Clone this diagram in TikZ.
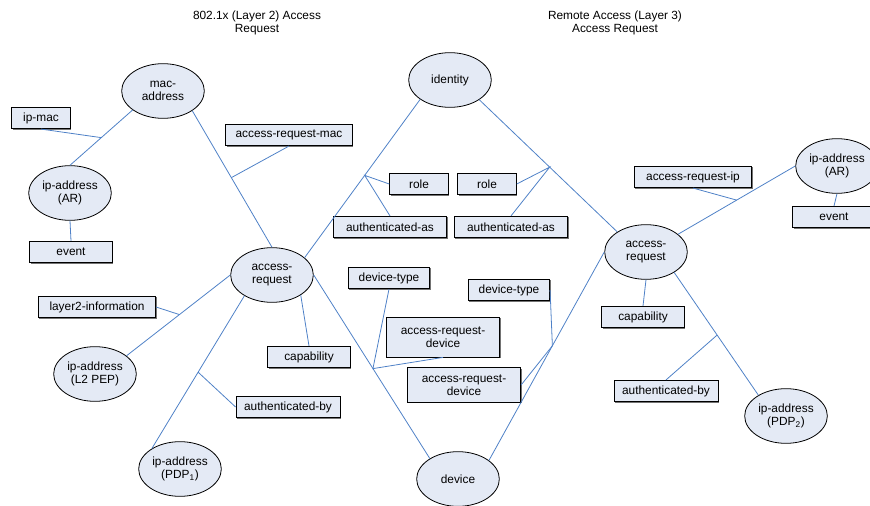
\documentclass[tikz,border=0pt]{standalone}
\usepackage{fontspec}
\setmainfont{Liberation Sans}
\usetikzlibrary{shapes.geometric,shadows,calc}

\definecolor{linkblue}{RGB}{79,129,199}
\definecolor{paleblue}{RGB}{228,234,245}

\begin{document}
\begin{tikzpicture}[x = 0.75pt, y = -0.75pt, font = \fontsize{8.9}{10}\selectfont,
                        entity/.style = {ellipse, draw, fill = paleblue, line width = 0.6pt, minimum width = 62pt, minimum height = 41pt, inner sep = 0pt, align = center},
                        attrib/.style = {rectangle, draw, fill = paleblue, line width = 0.6pt, minimum height = 16pt, inner sep = 1pt, align = center,
                                         drop shadow = {shadow xshift = 0.8pt, shadow yshift = -0.8pt, fill = black!55, opacity = 1}},
                        link/.style = {draw = linkblue, line width = 0.6pt}]
      \useasboundingbox (0, 0) rectangle (870, 506);

      \node [align = center] (ttlL) at (257, 23) {802.1x (Layer 2) Access\\Request};
      \node [align = center] (ttlR) at (615, 23) {Remote Access (Layer 3)\\Access Request};

      \node [entity] (mac) at (163, 91) {mac-\\address};
      \node [entity] (iparL) at (70, 193) {ip-address\\(AR)};
      \node [entity] (ident) at (450, 80) {identity};
      \node [entity] (reqL) at (272, 275) {access-\\request};
      \node [entity] (pep) at (95, 374) {ip-address\\(L2 PEP)};
      \node [entity] (pdpA) at (180, 469) {ip-address\\(PDP\textsubscript{1})};
      \node [entity] (dev) at (458, 479) {device};
      \node [entity] (reqR) at (646, 252) {access-\\request};
      \node [entity] (iparR) at (837, 166) {ip-address\\(AR)};
      \node [entity] (pdpB) at (786, 416) {ip-address\\(PDP\textsubscript{2})};

      \node [attrib, minimum width = 44pt] (ipmac) at (41, 118) {ip-mac};
      \node [attrib, minimum width = 62pt] (evL) at (71, 252) {event};
      \node [attrib, minimum width = 95pt] (armac) at (289, 135) {access-request-mac};
      \node [attrib, minimum width = 44pt] (roleL) at (419, 184) {role};
      \node [attrib, minimum width = 44pt] (roleR) at (487, 184) {role};
      \node [attrib, minimum width = 85pt] (asL) at (390, 227) {authenticated-as};
      \node [attrib, minimum width = 85pt] (asR) at (511, 227) {authenticated-as};
      \node [attrib, minimum width = 88pt] (arip) at (693, 177) {access-request-ip};
      \node [attrib, minimum width = 62pt] (evR) at (834, 217) {event};
      \node [attrib, minimum width = 88pt] (l2inf) at (97, 307) {layer2-information};
      \node [attrib, minimum width = 62pt] (capL) at (309, 357) {capability};
      \node [attrib, minimum width = 78pt] (byL) at (288, 407) {authenticated-by};
      \node [attrib, minimum width = 61pt] (dtL) at (389, 278) {device-type};
      \node [attrib, minimum width = 85pt, minimum height = 30pt] (ardA) at (443, 337) {access-request-\\device};
      \node [attrib, minimum width = 85pt, minimum height = 26pt] (ardB) at (464, 385) {access-request-\\device};
      \node [attrib, minimum width = 61pt] (dtR) at (509, 290) {device-type};
      \node [attrib, minimum width = 62pt] (capR) at (643, 317) {capability};
      \node [attrib, minimum width = 78pt] (byR) at (666, 391) {authenticated-by};

      % junction points on the relation lines
      \coordinate (jA) at ($(mac.212)!0.5!(iparL.north)$);
      \coordinate (jB) at ($(mac.326)!0.49!(reqL.north)$);
      \coordinate (jC) at ($(ident.213)!0.48!(reqL.28)$);
      \coordinate (jD) at ($(ident.326)!0.51!(reqR.145)$);
      \coordinate (jE) at ($(reqR.29)!0.5!(iparR.west)$);
      \coordinate (jF) at ($(reqL.west)!0.49!(pep.30)$);
      \coordinate (jG) at ($(reqL.217)!0.5!(pdpA.144)$);
      \coordinate (jH) at ($(reqL.east)!0.51!(dev.144)$);
      \coordinate (jI) at ($(reqR.west)!0.45!(dev.31)$);
      \coordinate (jJ) at ($(reqR.324)!0.51!(pdpB.143)$);

      \draw [link] (mac.212) -- (iparL.north);
      \draw [link] (ipmac.south) -- (jA);
      \draw [link] (iparL.south) -- (evL.north);
      \draw [link] (mac.326) -- (reqL.north);
      \draw [link] (armac.south) -- (jB);
      \draw [link] (ident.213) -- (reqL.28);
      \draw [link] (roleL.west) -- (jC) -- (asL.north);
      \draw [link] (ident.326) -- (reqR.145);
      \draw [link] (roleR.east) -- (jD) -- (asR.north);
      \draw [link] (reqR.29) -- (iparR.west);
      \draw [link] (arip.south) -- (jE);
      \draw [link] (iparR.south) -- (evR.north);
      \draw [link] (reqL.west) -- (pep.30);
      \draw [link] (l2inf.east) -- (jF);
      \draw [link] (reqL.217) -- (pdpA.144);
      \draw [link] (byL.west) -- (jG);
      \draw [link] (reqL.325) -- (capL.north);
      \draw [link] (reqL.east) -- (dev.144);
      \draw [link] (dtL.south) -- (jH) -- (ardA.south);
      \draw [link] (reqR.west) -- (dev.31);
      \draw [link] (dtR.east) -- (jI) -- (ardB.east);
      \draw [link] (reqR.south) -- (capR.north);
      \draw [link] (reqR.324) -- (pdpB.143);
      \draw [link] (byR.north) -- (jJ);

      \end{tikzpicture}
\end{document}
